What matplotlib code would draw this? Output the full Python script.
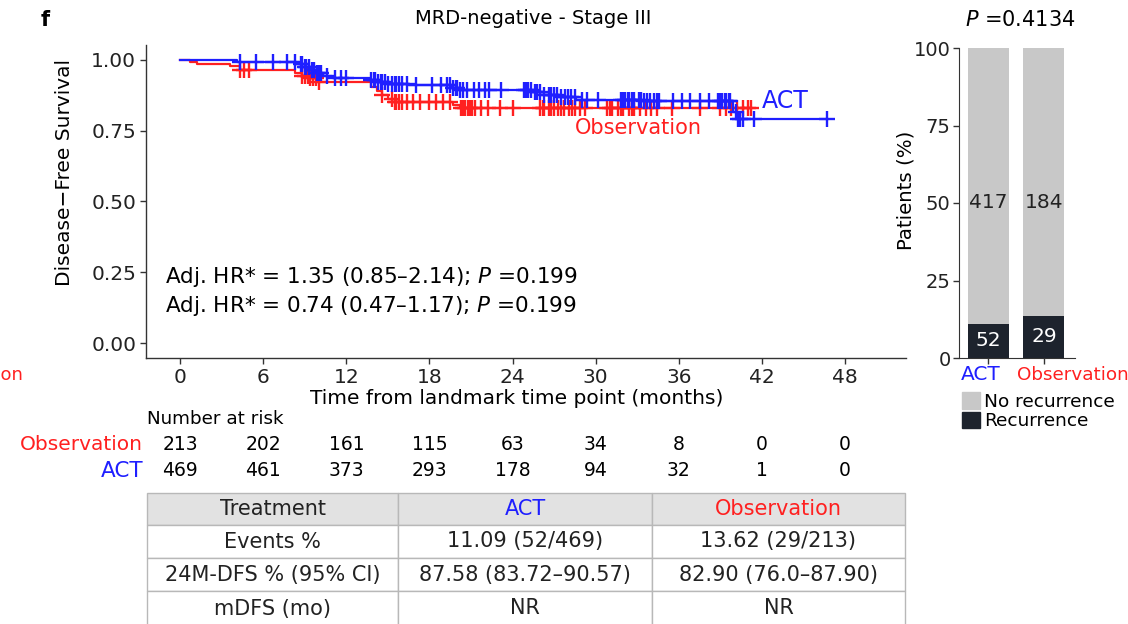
import numpy as np
import matplotlib
matplotlib.use("Agg")
import matplotlib.pyplot as plt
from matplotlib.patches import Patch, Rectangle
from matplotlib import transforms

plt.rcParams['font.family'] = ['DejaVu Sans']
plt.rcParams['font.size'] = 13

# Kaplan-Meier step points (months, survival)
act_t = [0, 4.1, 8.6, 9.0, 9.4, 9.8, 10.3, 11.0, 13.7, 14.3, 15.0, 16.5, 19.6, 20.2,
         25.4, 26.3, 27.4, 28.6, 33.5, 39.9, 40.2]
act_s = [1.0, 0.994, 0.985, 0.975, 0.965, 0.955, 0.945, 0.938, 0.930, 0.922, 0.915, 0.910,
         0.902, 0.894, 0.886, 0.878, 0.870, 0.860, 0.854, 0.815, 0.792]
act_end = 46.7
act_cens = [4.3, 5.5, 6.7, 7.7, 8.3, 8.7, 8.8, 9.0, 9.1, 9.3, 9.5, 9.6, 9.7, 9.9, 10.0,
            10.2, 10.6, 11.2, 11.6, 12.0, 13.8, 14.0, 14.1, 14.3, 14.5, 14.6, 14.8, 15.0,
            15.3, 15.5, 15.6, 15.8, 16.0, 16.4, 17.0, 18.2, 18.8, 19.3, 19.5, 19.7, 19.9,
            20.0, 20.2, 20.4, 20.7, 21.2, 21.6, 22.0, 22.3, 23.2, 24.8, 25.0, 25.1, 25.3,
            25.6, 25.8, 26.0, 26.3, 26.6, 26.8, 27.0, 27.2, 27.5, 27.8, 28.0, 28.2, 28.5,
            29.0, 29.4, 30.2, 31.8, 32.0, 32.1, 32.3, 32.4, 32.6, 32.8, 33.1, 33.3, 33.5,
            33.7, 33.9, 34.2, 34.4, 34.6, 35.6, 36.2, 36.8, 37.5, 38.2, 38.8, 39.0, 39.1,
            39.3, 39.4, 39.6, 39.7, 40.1, 40.3, 40.4, 40.6, 41.4, 46.7]

obs_t = [0, 0.7, 1.2, 3.6, 4.3, 8.3, 8.8, 9.3, 9.9, 13.8, 14.2, 14.6, 15.0, 15.5, 19.7, 20.2]
obs_s = [1.0, 0.993, 0.985, 0.980, 0.965, 0.955, 0.945, 0.935, 0.922, 0.905, 0.890, 0.875,
         0.862, 0.850, 0.840, 0.832]
obs_end = 41.2
obs_cens = [4.3, 4.6, 5.0, 8.8, 9.0, 9.2, 9.4, 9.6, 9.8, 10.0, 14.6, 15.3, 15.5, 15.6,
            15.8, 16.0, 16.4, 16.8, 17.3, 18.0, 18.5, 19.0, 19.5, 20.3, 20.4, 20.6, 20.8,
            20.9, 21.1, 21.3, 21.7, 22.2, 23.1, 24.0, 26.0, 26.2, 26.3, 26.6, 26.8, 27.0,
            27.3, 27.5, 27.7, 28.1, 28.3, 28.5, 28.9, 29.2, 30.8, 31.0, 31.2, 31.6, 31.8,
            32.0, 32.4, 32.6, 32.8, 33.2, 33.6, 34.0, 34.4, 35.5, 37.5, 39.0, 39.4, 39.8,
            40.2, 40.6, 41.0, 41.2]

risk_times = [0, 6, 12, 18, 24, 30, 36, 42, 48]
risk_obs = [213, 202, 161, 115, 63, 34, 8, 0, 0]
risk_act = [469, 461, 373, 293, 178, 94, 32, 1, 0]

groups = ['ACT', 'Observation']
recur = [52, 29]
no_recur = [417, 184]

table_rows = [
    ['Treatment', 'ACT', 'Observation'],
    ['Events %', '11.09 (52/469)', '13.62 (29/213)'],
    ['24M-DFS % (95% CI)', '87.58 (83.72\u201390.57)', '82.90 (76.0\u201387.90)'],
    ['mDFS (mo)', 'NR', 'NR'],
]

BLUE = '#1f1fff'
RED = '#ff2020'
AXC = '#333333'
TXT = '#222222'
W, H = 1128, 624


def fr(x0, y0, x1, y1):
    return [x0 / W, 1 - y1 / H, (x1 - x0) / W, (y1 - y0) / H]


def fx(x):
    return x / W


def fy(y):
    return 1 - y / H


fig = plt.figure(figsize=(11.28, 6.24), dpi=100)

# ---- KM panel
km = fig.add_axes(fr(146, 45, 906, 358))
km.set_xlim(-2.46, 52.4)
km.set_ylim(-0.053, 1.053)
for s in ['top', 'right']:
    km.spines[s].set_visible(False)
for s in ['left', 'bottom']:
    km.spines[s].set_color(AXC)
    km.spines[s].set_linewidth(1.0)
km.set_xticks(risk_times)
km.set_yticks([0, 0.25, 0.5, 0.75, 1.0])
km.set_yticklabels(['0.00', '0.25', '0.50', '0.75', '1.00'])
km.tick_params(colors=AXC, labelcolor=TXT, length=4, width=1, labelsize=14.5, pad=3)
fig.text(fx(65), fy(172), 'Disease\u2212Free Survival', fontsize=14.5, rotation=90,
         ha='center', va='center')
fig.text(fx(517), fy(398), 'Time from landmark time point (months)', fontsize=14.5,
         ha='center', va='center')


def draw_km(t, s, end, cens, color):
    tt = np.array(list(t) + [end])
    ss = np.array(list(s) + [s[-1]])
    km.step(tt, ss, where='post', color=color, lw=1.6)
    idx = np.searchsorted(np.array(t), np.array(cens), side='right') - 1
    km.plot(cens, np.array(s)[idx], ls='none', marker='+', ms=11, mew=1.7, color=color)


draw_km(obs_t, obs_s, obs_end, obs_cens, RED)
draw_km(act_t, act_s, act_end, act_cens, BLUE)

km.text(42.0, 0.855, 'ACT', color=BLUE, fontsize=17, va='center')
km.text(28.5, 0.76, 'Observation', color=RED, fontsize=15, va='center')
km.text(-1.1, 0.233, r'Adj. HR* = 1.35 (0.85–2.14); $\it{P}$ =0.199', fontsize=15.5, va='center')
km.text(-1.1, 0.131, r'Adj. HR* = 0.74 (0.47–1.17); $\it{P}$ =0.199', fontsize=15.5, va='center')

fig.text(fx(41), fy(20), 'f', fontsize=15, fontweight='bold', va='center')
fig.text(fx(533), fy(18), 'MRD-negative - Stage III', fontsize=14, ha='center', va='center')
fig.text(fx(23), fy(375), 'Observation', color=RED, fontsize=13, ha='right', va='center')

# ---- number at risk
bt = transforms.blended_transform_factory(km.transData, fig.transFigure)
fig.text(fx(147), fy(419), 'Number at risk', fontsize=13.2, va='center')
fig.text(fx(143), fy(445), 'Observation', color=RED, fontsize=14.5, ha='right', va='center')
fig.text(fx(143), fy(471), 'ACT', color=BLUE, fontsize=15.5, ha='right', va='center')
for t, a, b in zip(risk_times, risk_obs, risk_act):
    fig.text(t, fy(445), str(a), transform=bt, fontsize=13.5, ha='center', va='center')
    fig.text(t, fy(471), str(b), transform=bt, fontsize=13.5, ha='center', va='center')

# ---- table
cols = [147, 398, 652, 905]
rows = [493, 525, 558, 591, 626]
for i, row in enumerate(table_rows):
    for j, txt in enumerate(row):
        x0, x1 = cols[j], cols[j + 1]
        y0, y1 = rows[i], rows[i + 1]
        face = '#e2e2e2' if i == 0 else 'white'
        fig.add_artist(Rectangle((fx(x0), fy(y1)), fx(x1 - x0), (y1 - y0) / H,
                                 transform=fig.transFigure, facecolor=face,
                                 edgecolor='#b8b8b8', lw=1.0))
        c = TXT
        if i == 0 and j == 1:
            c = BLUE
        if i == 0 and j == 2:
            c = RED
        fig.text(fx((x0 + x1) / 2), fy((y0 + y1) / 2), txt, color=c, fontsize=15,
                 ha='center', va='center')

# ---- stacked bars
bax = fig.add_axes(fr(959, 48, 1075, 358))
tot = np.array(recur) + np.array(no_recur)
pr = 100 * np.array(recur) / tot
pn = 100 * np.array(no_recur) / tot
x = np.arange(len(groups))
bax.bar(x, pr, width=0.74, color='#1d232d')
bax.bar(x, pn, bottom=pr, width=0.74, color='#c8c8c8')
for xi, r, n, p in zip(x, recur, no_recur, pr):
    bax.text(xi, p / 2, str(r), color='white', ha='center', va='center', fontsize=14.5)
    bax.text(xi, 50, str(n), color=TXT, ha='center', va='center', fontsize=14.5)
bax.set_xlim(-0.53, 1.56)
bax.set_ylim(0, 100)
bax.set_yticks([0, 25, 50, 75, 100])
bax.set_xticks(x)
bax.set_xticklabels([])
for s in ['top', 'right']:
    bax.spines[s].set_visible(False)
for s in ['left', 'bottom']:
    bax.spines[s].set_color(AXC)
bax.tick_params(colors=AXC, length=4, width=1, labelsize=14, pad=2)
bax.tick_params(axis='y', labelcolor=TXT)
fig.text(fx(981), fy(375), groups[0], color=BLUE, fontsize=14.5, ha='center', va='center')
fig.text(fx(1073), fy(375), groups[1], color=RED, fontsize=13.2, ha='center', va='center')
fig.text(fx(906), fy(190), 'Patients (%)', fontsize=14.2, rotation=90, ha='center', va='center')
fig.text(fx(1020), fy(20), r'$\it{P}$ =0.4134', fontsize=15, ha='center', va='center')

handles = [Patch(color='#c8c8c8'), Patch(color='#1d232d')]
bax.legend(handles, ['No recurrence', 'Recurrence'], loc='upper left',
           bbox_to_anchor=(fx(962), fy(392)), bbox_transform=fig.transFigure,
           frameon=False, handlelength=1.0, handleheight=1.0, handletextpad=0.2,
           labelspacing=0.05, borderaxespad=0, borderpad=0, fontsize=13.3)

fig.savefig('out.png', dpi=100)
